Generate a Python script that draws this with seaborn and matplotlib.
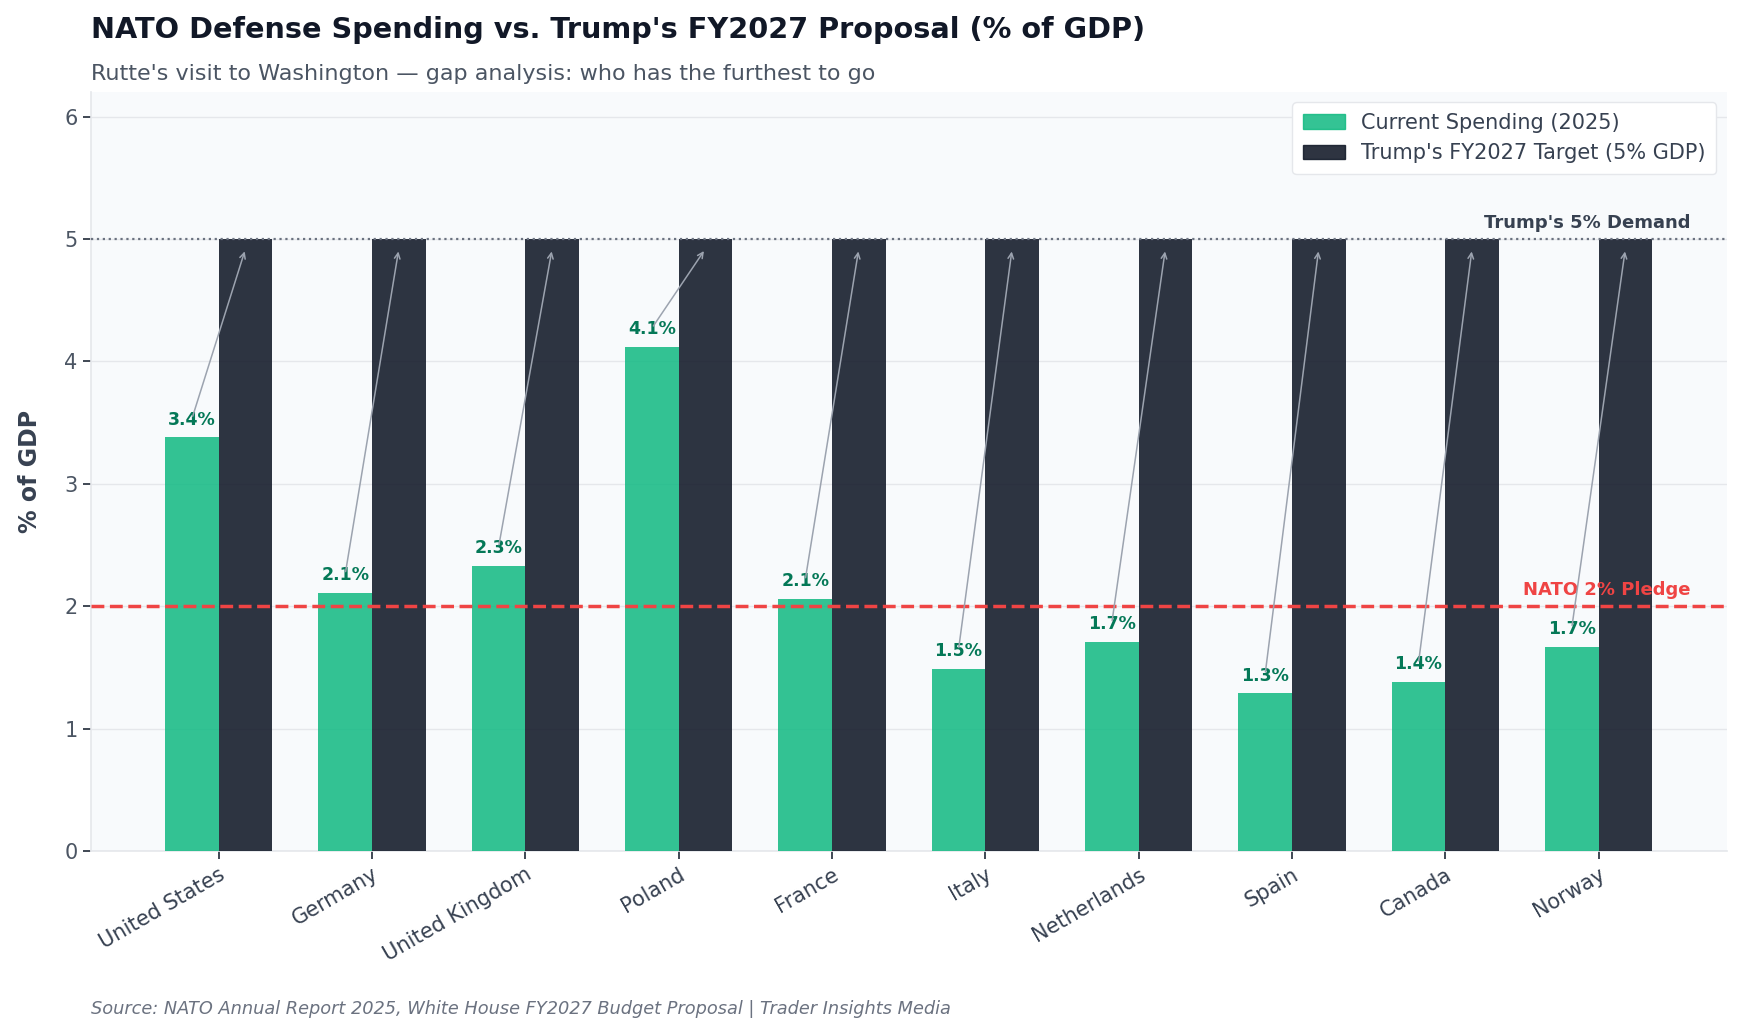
import numpy as np
import pandas as pd
import matplotlib
matplotlib.use("Agg")
import matplotlib.pyplot as plt
import matplotlib.patches as mpatches
import seaborn as sns

countries = ["United States", "Germany", "United Kingdom", "Poland", "France",
             "Italy", "Netherlands", "Spain", "Canada", "Norway"]
current = [3.38, 2.11, 2.33, 4.12, 2.06, 1.49, 1.71, 1.29, 1.38, 1.67]
target = [5.0] * len(countries)
labels = ["3.4%", "2.1%", "2.3%", "4.1%", "2.1%", "1.5%", "1.7%", "1.3%", "1.4%", "1.7%"]

series_names = ["Current Spending (2025)", "Trump's FY2027 Target (5% GDP)"]
green = "#10b981"
dark = "#111827"

df = pd.DataFrame({
    "country": countries * 2,
    "value": current + target,
    "series": [series_names[0]] * len(countries) + [series_names[1]] * len(countries),
})

sns.set_style("white")
plt.rcParams["font.family"] = ["DejaVu Sans"]

fig = plt.figure(figsize=(17.44, 10.34), dpi=100)
ax = fig.add_axes([0.052, 0.177, 0.938, 0.734])
ax.set_facecolor("#f8fafc")

sns.barplot(data=df, x="country", y="value", hue="series",
            palette=[green, dark], width=0.7, saturation=1,
            ax=ax, legend=False, zorder=3)

for cont, a in zip(ax.containers, [0.85, 0.88]):
    for p in cont:
        p.set_alpha(a)
        p.set_edgecolor("none")

w = 0.35
for i, (v, lab) in enumerate(zip(current, labels)):
    ax.text(i - w / 2, v + 0.07, lab, ha="center", va="bottom",
            fontsize=12.5, fontweight="bold", color="#047857", zorder=5)
    ax.annotate("", xy=(i + w / 2, 4.92), xytext=(i - w / 2, v + 0.15),
                arrowprops=dict(arrowstyle="->", color="#9ca3af", lw=1.1),
                zorder=6)

ax.axhline(5, color="#6b7280", linestyle=":", linewidth=1.6, zorder=4)
ax.axhline(2, color="#ef4444", linestyle="--", linewidth=2.5, zorder=4)
ax.text(9.6, 5.06, "Trump's 5% Demand", ha="right", va="bottom",
        fontsize=13, fontweight="bold", color="#374151", zorder=5)
ax.text(9.6, 2.06, "NATO 2% Pledge", ha="right", va="bottom",
        fontsize=13, fontweight="bold", color="#ef4444", zorder=5)

ax.set_xlim(-0.835, 9.835)
ax.set_ylim(0, 6.2)
ax.set_yticks(range(0, 7))
ax.grid(axis="y", color="#e5e7eb", linewidth=1, zorder=0)
ax.set_axisbelow(True)
ax.set_xlabel("")
ax.set_ylabel("% of GDP", fontsize=17, fontweight="bold", color="#374151", labelpad=16)

for s in ["top", "right"]:
    ax.spines[s].set_visible(False)
for s in ["left", "bottom"]:
    ax.spines[s].set_color("#e5e7eb")
    ax.spines[s].set_linewidth(1.2)

ax.tick_params(axis="both", bottom=True, left=True, labelsize=15,
               length=6, width=1.2, color="#1f2937")
for t in ax.get_yticklabels():
    t.set_color("#4b5563")
for t in ax.get_xticklabels():
    t.set_color("#374151")
plt.setp(ax.get_xticklabels(), rotation=30, ha="right", rotation_mode="anchor")

handles = [mpatches.Patch(color=green, alpha=0.85, label=series_names[0]),
           mpatches.Patch(color=dark, alpha=0.88, label=series_names[1])]
leg = ax.legend(handles=handles, loc="upper right", fontsize=15, frameon=True,
                facecolor="white", edgecolor="#e5e7eb", framealpha=1,
                borderpad=0.5, handlelength=2.0)
for t in leg.get_texts():
    t.set_color("#374151")

fig.text(0.052, 0.971, "NATO Defense Spending vs. Trump's FY2027 Proposal (% of GDP)",
         ha="left", va="center", fontsize=20.7, fontweight="bold", color="#111827")
fig.text(0.052, 0.928, "Rutte's visit to Washington \u2014 gap analysis: who has the furthest to go",
         ha="left", va="center", fontsize=16, color="#4b5563")
fig.text(0.052, 0.024, "Source: NATO Annual Report 2025, White House FY2027 Budget Proposal | Trader Insights Media",
         ha="left", va="center", fontsize=12.8, fontstyle="italic", color="#6b7280")

fig.savefig("out.png", dpi=100, facecolor="white")
